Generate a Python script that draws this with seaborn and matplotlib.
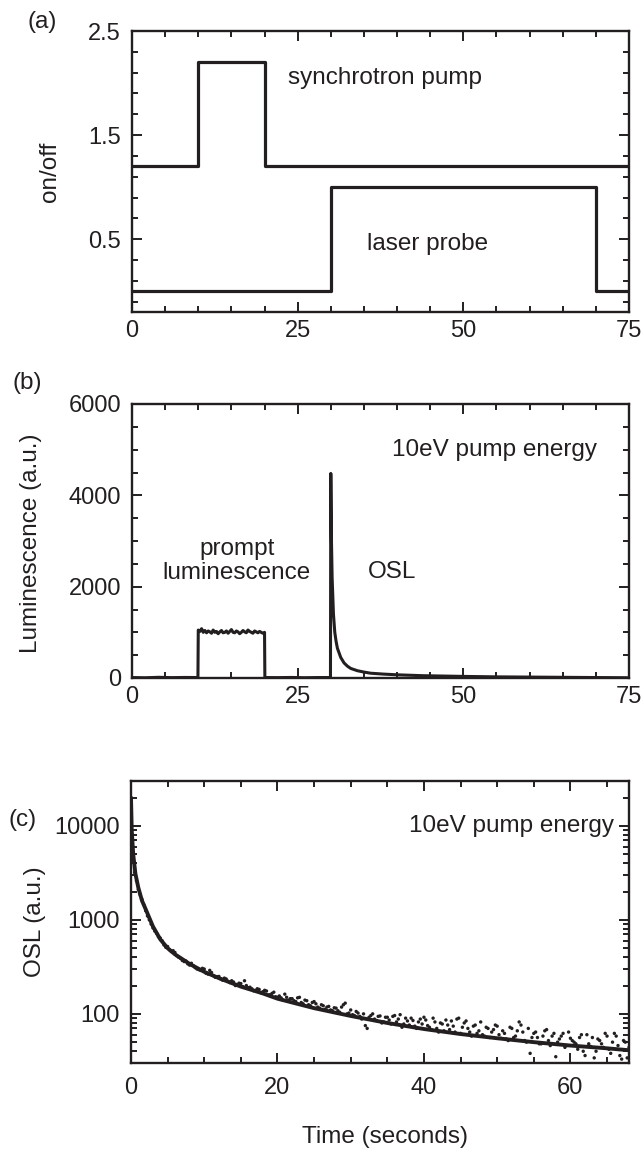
import numpy as np
import pandas as pd
import matplotlib
matplotlib.use("Agg")
import matplotlib.pyplot as plt
from matplotlib.ticker import MultipleLocator, FixedLocator, LogLocator, NullFormatter
import seaborn as sns

# ---------------- data ----------------
# (a) on/off timing (change points, step-post)
pump_t = [0, 10, 20, 75]
pump_v = [1.2, 2.2, 1.2, 1.2]
laser_t = [0, 30, 70, 75]
laser_v = [0.0, 1.0, 0.0, 0.0]

# (b) luminescence trace
base1_t = [0, 2, 4, 6, 8, 9.95]
base1_v = [10, 5, 15, 8, 12, 10]
plateau_t = list(np.arange(10, 20.01, 0.25))
plateau_v = [1050, 1020, 1080, 1000, 1040, 990, 1030, 1010, 980, 1050, 1000,
             1020, 970, 1010, 1040, 990, 1000, 1030, 980, 1020, 1060, 1000,
             990, 1030, 1010, 970, 1000, 1040, 1010, 990, 1050, 1020, 1000,
             980, 1030, 1010, 990, 1020, 1000, 980, 1000]
base2_t = [20.05, 22, 24, 26, 28, 29.95]
base2_v = [10, 8, 12, 6, 10, 10]
decay_t = [30, 30.1, 30.2, 30.4, 30.6, 30.8, 31, 31.5, 32, 32.5, 33, 34, 35,
           36, 37, 38, 40, 42, 44, 46, 48, 50, 55, 60, 65, 70, 75]
decay_v = [4480, 3000, 2200, 1400, 1000, 800, 650, 450, 330, 260, 210, 160,
           130, 105, 95, 85, 70, 60, 50, 45, 40, 35, 25, 20, 15, 10, 5]

# (c) OSL decay: measured points (two interleaved read-offs) and fit
osl_t = list(np.arange(0, 68.01, 0.5))
osl_v = [19000, 3200, 2100, 1650, 1250, 1000, 820, 720, 640, 540, 520, 460,
         450, 400, 370, 365, 330, 325, 300, 290, 300, 265, 275, 245, 250, 228,
         235, 215, 218, 205, 210, 225, 190, 185, 178, 182, 172, 175, 160, 170,
         150, 148, 162, 140, 145, 135, 150, 128, 138, 122, 135, 118, 125, 112,
         120, 108, 115, 104, 125, 100, 110, 96, 102, 88, 75, 92, 100, 85, 95,
         82, 92, 78, 96, 88, 72, 90, 76, 85, 70, 88, 92, 75, 68, 82, 64, 78,
         86, 68, 74, 88, 62, 80, 70, 58, 76, 66, 60, 72, 56, 68, 74, 55, 62,
         52, 70, 58, 82, 64, 50, 38, 62, 56, 48, 66, 52, 58, 35, 54, 62, 46,
         55, 50, 42, 60, 36, 48, 56, 40, 52, 44, 58, 38, 62, 46, 33, 50, 44]
osl2_t = list(np.arange(0.25, 68.0, 0.5))
osl2_v = [4600, 2600, 1850, 1450, 1100, 900, 760, 660, 600, 510, 480, 470,
          415, 390, 360, 340, 345, 310, 295, 305, 270, 290, 255, 248, 235,
          240, 222, 225, 200, 212, 195, 200, 192, 176, 185, 168, 178, 158,
          165, 152, 155, 140, 150, 145, 138, 148, 132, 140, 125, 132, 128,
          115, 122, 118, 110, 116, 108, 118, 130, 102, 98, 106, 94, 100, 70,
          96, 88, 94, 80, 92, 86, 94, 82, 98, 78, 84, 90, 74, 82, 78, 86, 72,
          90, 70, 80, 66, 76, 84, 64, 90, 72, 84, 64, 74, 62, 82, 58, 70, 64,
          76, 60, 66, 54, 72, 56, 66, 76, 52, 70, 56, 64, 48, 58, 68, 46, 62,
          50, 58, 44, 64, 52, 48, 56, 40, 60, 45, 34, 54, 48, 62, 42, 50, 58,
          36, 52, 34]
fit_t = [0, 0.1, 0.3, 0.6, 1.0, 1.5, 2, 3, 4, 5, 6, 8, 10, 12, 15, 18, 20, 25,
         30, 35, 40, 45, 50, 55, 60, 65, 68]
fit_v = [20000, 9000, 5000, 3100, 2200, 1600, 1300, 850, 620, 500, 430, 340,
         280, 240, 195, 165, 145, 115, 95, 80, 69, 61, 55, 50, 46, 43, 41]

# ---------------- style ----------------
sns.set_style("ticks")
plt.rcParams['font.family'] = ['Liberation Sans', 'DejaVu Sans']
INK = '#231f20'
TICK_FS = 17
LAB_FS = 17.5

fig = plt.figure(figsize=(6.44, 11.51), dpi=100)
W, H = 644, 1151
def add_ax(l, t, r, b):
    return fig.add_axes([l / W, 1 - b / H, (r - l) / W, (b - t) / H])

axa = add_ax(132, 31, 629, 312)
axb = add_ax(132, 404, 629, 678)
axc = add_ax(131, 781, 629, 1063)

def style_axis(ax, xpad=6, ypad=8):
    for s in ax.spines.values():
        s.set_linewidth(1.7)
        s.set_color(INK)
    ax.tick_params(which='both', direction='in', top=True, right=True,
                   colors=INK, width=1.4)
    ax.tick_params(which='major', length=7, labelsize=TICK_FS)
    ax.tick_params(which='minor', length=4)
    ax.tick_params(axis='x', which='major', pad=xpad)
    ax.tick_params(axis='y', which='major', pad=ypad)

# ----- (a)
df_p = pd.DataFrame({'t': pump_t, 'v': pump_v})
df_l = pd.DataFrame({'t': laser_t, 'v': laser_v})
sns.lineplot(data=df_p, x='t', y='v', ax=axa, color=INK, lw=2.3,
             drawstyle='steps-post', sort=False, estimator=None)
sns.lineplot(data=df_l, x='t', y='v', ax=axa, color=INK, lw=2.3,
             drawstyle='steps-post', sort=False, estimator=None)
axa.set_xlim(0, 75)
axa.set_ylim(-0.2, 2.5)
axa.xaxis.set_major_locator(MultipleLocator(25))
axa.xaxis.set_minor_locator(MultipleLocator(5))
axa.yaxis.set_major_locator(FixedLocator([0.5, 1.5, 2.5]))
axa.yaxis.set_minor_locator(FixedLocator([-0.1, 0.1, 0.3, 0.7, 0.9, 1.1, 1.3,
                                          1.7, 1.9, 2.1, 2.3]))
axa.set_xlabel('')
axa.set_ylabel('on/off', fontsize=LAB_FS, color=INK)
axa.yaxis.set_label_coords(-0.143, 0.5)
style_axis(axa)
axa.text(23.5, 2.05, 'synchrotron pump', fontsize=LAB_FS, color=INK,
         va='center', ha='left')
axa.text(35.5, 0.45, 'laser probe', fontsize=LAB_FS, color=INK,
         va='center', ha='left')

# ----- (b)
tb = base1_t + plateau_t + base2_t + decay_t
vb = base1_v + plateau_v + base2_v + decay_v
df_b = pd.DataFrame({'t': tb, 'v': vb})
sns.lineplot(data=df_b, x='t', y='v', ax=axb, color=INK, lw=2.2,
             sort=False, estimator=None)
axb.set_xlim(0, 75)
axb.set_ylim(0, 6000)
axb.xaxis.set_major_locator(MultipleLocator(25))
axb.xaxis.set_minor_locator(MultipleLocator(5))
axb.yaxis.set_major_locator(MultipleLocator(2000))
axb.yaxis.set_minor_locator(MultipleLocator(500))
axb.set_xlabel('')
axb.set_ylabel('Luminescence (a.u.)', fontsize=LAB_FS, color=INK)
axb.yaxis.set_label_coords(-0.181, 0.49)
style_axis(axb)
axb.text(39.2, 5000, '10eV pump energy', fontsize=LAB_FS, color=INK,
         va='center', ha='left')
axb.text(15.8, 2560, 'prompt\nluminescence', fontsize=LAB_FS, color=INK,
         va='center', ha='center', linespacing=1.1)
axb.text(35.6, 2320, 'OSL', fontsize=LAB_FS, color=INK,
         va='center', ha='left')

# ----- (c)
df_c = pd.DataFrame({'t': osl_t + osl2_t, 'v': osl_v + osl2_v})
df_f = pd.DataFrame({'t': fit_t, 'v': fit_v})
sns.scatterplot(data=df_c, x='t', y='v', ax=axc, color=INK, s=6,
                edgecolor='none', zorder=2)
sns.lineplot(data=df_f, x='t', y='v', ax=axc, color=INK, lw=2.8,
             sort=False, estimator=None, zorder=3)
axc.set_yscale('log')
axc.set_xlim(0, 68)
axc.set_ylim(30, 30000)
axc.xaxis.set_major_locator(MultipleLocator(20))
axc.xaxis.set_minor_locator(MultipleLocator(5))
axc.yaxis.set_major_locator(FixedLocator([100, 1000, 10000]))
axc.yaxis.set_minor_locator(LogLocator(base=10, subs=np.arange(2, 10)))
axc.yaxis.set_minor_formatter(NullFormatter())
axc.set_yticklabels(['100', '1000', '10000'])
axc.set_xlabel('Time (seconds)', fontsize=LAB_FS, color=INK, va='center')
axc.xaxis.set_label_coords(0.51, -0.262)
axc.set_ylabel('OSL (a.u.)', fontsize=LAB_FS, color=INK)
axc.yaxis.set_label_coords(-0.171, 0.5)
style_axis(axc, xpad=10)
axc.text(37.9, 10000, '10eV pump energy', fontsize=LAB_FS, color=INK,
         va='center', ha='left')

# panel letters
fig.text(27 / W, 1 - 22 / H, '(a)', fontsize=LAB_FS, color=INK, va='center', ha='left')
fig.text(12 / W, 1 - 383 / H, '(b)', fontsize=LAB_FS, color=INK, va='center', ha='left')
fig.text(8 / W, 1 - 820 / H, '(c)', fontsize=LAB_FS, color=INK, va='center', ha='left')

fig.savefig('out.png', dpi=100)
